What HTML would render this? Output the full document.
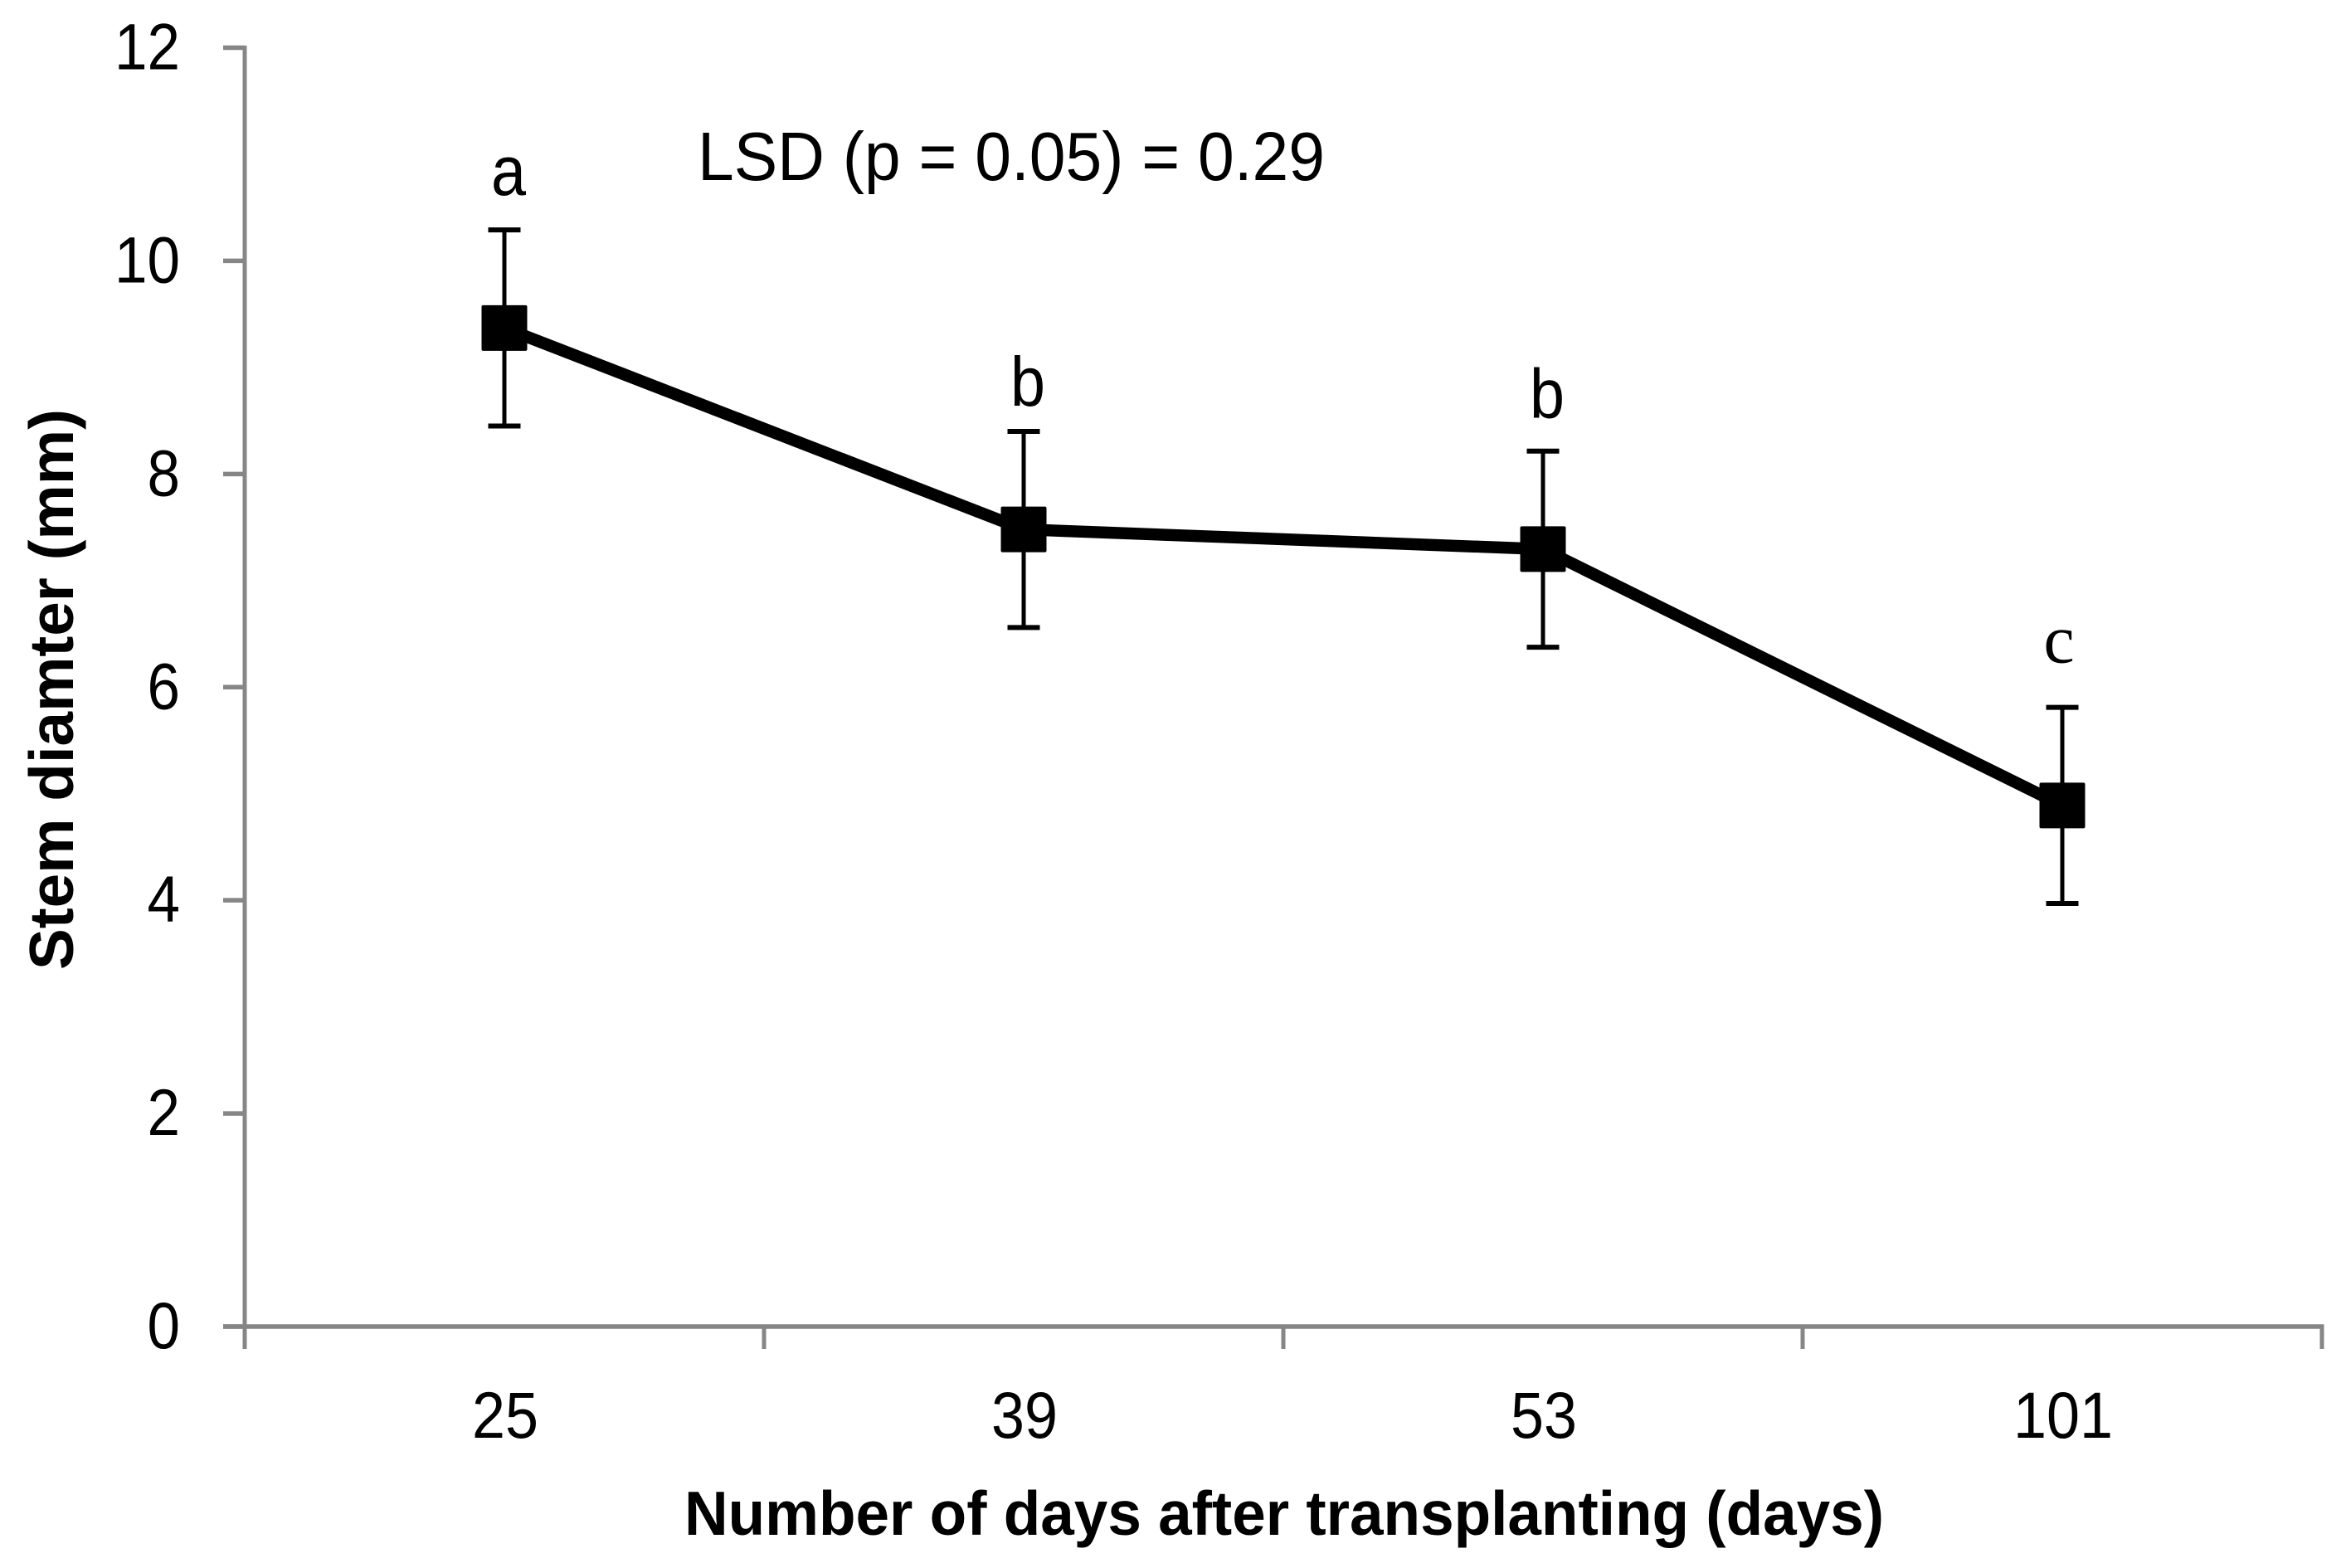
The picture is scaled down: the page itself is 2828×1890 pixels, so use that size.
<!DOCTYPE html>
<html lang="en">
<head>
<meta charset="utf-8">
<title>Stem diameter chart</title>
<style>
html,body{margin:0;padding:0;background:#fff;}
svg{display:block;}
text{font-family:"Liberation Sans",sans-serif;fill:#000;}
</style>
</head>
<body>
<svg id="chart" xmlns="http://www.w3.org/2000/svg" width="2828" height="1890" viewBox="0 0 2828 1890">
  <rect x="0" y="0" width="2828" height="1890" fill="#ffffff"/>
  <g id="axes"></g>
  <g id="errors"></g>
  <g id="series"></g>
  <g id="labels"></g>
  <text x="825" y="1850" font-size="75" font-weight="700" textLength="1446" lengthAdjust="spacingAndGlyphs">Number of days after transplanting (days)</text>
  <text x="88" y="831" font-size="75" font-weight="700" text-anchor="middle" textLength="676" lengthAdjust="spacingAndGlyphs" transform="rotate(-90 88 831)">Stem diamter (mm)</text>
  <text x="841" y="217" font-size="83" textLength="756" lengthAdjust="spacingAndGlyphs">LSD (p = 0.05) = 0.29</text>
</svg>
<script>
const categories = ['25', '39', '53', '101'];
const stemDiameter = [9.37, 7.48, 7.295, 4.89];
const errorAmount = [0.92, 0.92, 0.92, 0.92];
const significance = ['a', 'b', 'b', 'c'];
const significanceHeight = [10.62, 8.64, 8.53, 6.23];
const yTicks = [0, 2, 4, 6, 8, 10, 12];

const NS = 'http://www.w3.org/2000/svg';
const plotLeft = 295, plotRight = 2799, plotBottom = 1599, plotTop = 57.5;
const yMax = 12;
const axisColor = '#868686';
const band = (plotRight - plotLeft) / categories.length;
function xBand(i) { return plotLeft + band * i; }
function xCenter(i) { return plotLeft + band * (i + 0.5); }
function yScale(v) { return plotBottom - (plotBottom - plotTop) * v / yMax; }

function make(parent, tag, attrs, text) {
  const el = document.createElementNS(NS, tag);
  for (const k in attrs) el.setAttribute(k, attrs[k]);
  if (text !== undefined) el.textContent = text;
  parent.appendChild(el);
  return el;
}

const axes = document.getElementById('axes');
const errors = document.getElementById('errors');
const series = document.getElementById('series');
const labels = document.getElementById('labels');

const yAxis = make(axes, 'line', {x1: plotLeft, x2: plotLeft, y1: plotTop - 2.5, y2: plotBottom + 27, stroke: axisColor, 'stroke-width': 5});


const xAxis = make(axes, 'line', {x1: plotLeft - 26, x2: plotRight + 2.5, y1: plotBottom, y2: plotBottom, stroke: axisColor, 'stroke-width': 5.5});



yTicks.forEach(function (t) {
  const tick = make(axes, 'line', {x1: plotLeft - 26, x2: plotLeft, y1: yScale(t), y2: yScale(t), stroke: axisColor, 'stroke-width': 5.5});
  
  
  const s = String(t);
  const lab = make(labels, 'text', {x: 217, y: yScale(t) + 26, 'font-size': 79, 'text-anchor': 'end', textLength: s.length * 39.5, lengthAdjust: 'spacingAndGlyphs'}, s);
  
  
});

for (let i = 0; i <= categories.length; i++) {
  const tick = make(axes, 'line', {x1: xBand(i), x2: xBand(i), y1: plotBottom, y2: plotBottom + 27, stroke: axisColor, 'stroke-width': 5});
  
  
}

categories.forEach(function (c, i) {
  const lab = make(labels, 'text', {x: xCenter(i) + 1, y: 1733, 'font-size': 79, 'text-anchor': 'middle', textLength: c.length * 40, lengthAdjust: 'spacingAndGlyphs'}, c);
  
  
});

categories.forEach(function (c, i) {
  const x = xCenter(i);
  const hi = yScale(stemDiameter[i] + errorAmount[i]);
  const lo = yScale(stemDiameter[i] - errorAmount[i]);
  const g = make(errors, 'g', {stroke: '#000', fill: 'none'});
  
  
  make(g, 'line', {x1: x, x2: x, y1: hi, y2: lo, 'stroke-width': 5});
  make(g, 'line', {x1: x - 19.5, x2: x + 19.5, y1: hi, y2: hi, 'stroke-width': 6});
  make(g, 'line', {x1: x - 19.5, x2: x + 19.5, y1: lo, y2: lo, 'stroke-width': 6});
});

const pts = stemDiameter.map(function (v, i) { return xCenter(i) + ',' + yScale(v); }).join(' ');
const line = make(series, 'polyline', {points: pts, fill: 'none', stroke: '#000', 'stroke-width': 14.5, 'stroke-linejoin': 'round'});



stemDiameter.forEach(function (v, i) {
  const size = 55;
  const m = make(series, 'rect', {x: xCenter(i) - size / 2, y: yScale(v) - size / 2, width: size, height: size, rx: 2, fill: '#000'});
  
  

  const isSerif = significance[i] === 'c';
  const t = make(labels, 'text', {x: xCenter(i) + (isSerif ? -4 : 5), y: yScale(significanceHeight[i]), 'font-size': 84, 'text-anchor': 'middle'}, significance[i]);
  if (isSerif) {
    t.setAttribute('style', 'font-family:"Liberation Serif",serif');
  } else {
    t.setAttribute('textLength', '42');
    t.setAttribute('lengthAdjust', 'spacingAndGlyphs');
  }
  
  
});
</script>
</body>
</html>
